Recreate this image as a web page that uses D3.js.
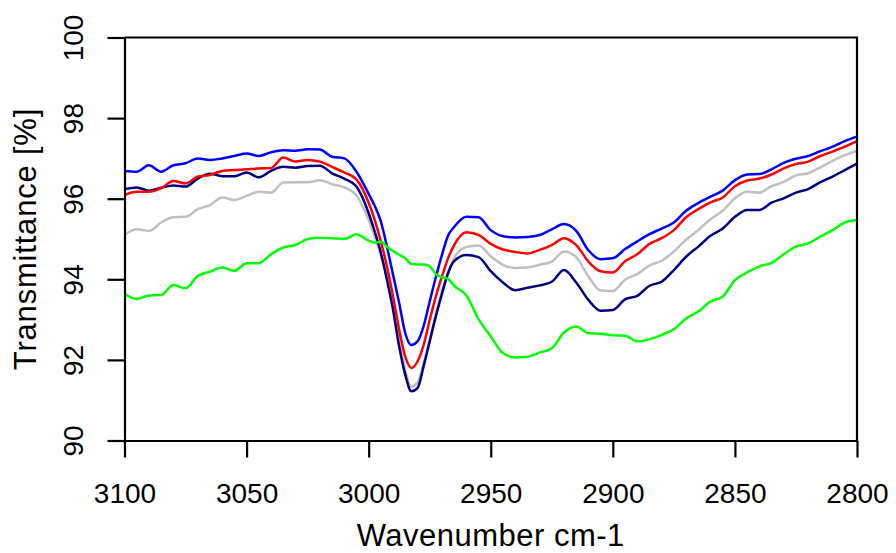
<!DOCTYPE html>
<html>
<head>
<meta charset="utf-8">
<script src="https://cdn.jsdelivr.net/npm/d3@7"></script>
<style>
  body { margin: 0; background: #fff; }
  text { font-family: "Liberation Sans", Arial, sans-serif; }
</style>
</head>
<body>
<svg id="chart" width="896" height="553"></svg>
<script>
// wavenumbers (cm-1), finer steps around the main absorption band
const wavenumbers = [3100, 3095, 3090, 3085, 3080, 3075, 3070, 3065, 3060, 3055, 3050, 3045, 3040, 3035, 3030, 3025, 3020, 3015, 3010, 3005,
  3000, 2997.5, 2995, 2992.5, 2990, 2987.5, 2985, 2982.5, 2980, 2977.5, 2975, 2972.5, 2970, 2967.5, 2965,
  2960, 2955, 2950, 2945, 2940, 2935, 2930, 2925, 2920, 2915, 2910, 2905, 2900, 2895, 2890, 2885, 2880, 2875, 2870, 2865,
  2860, 2855, 2850, 2845, 2840, 2835, 2830, 2825, 2820, 2815, 2810, 2805, 2800];

const blueT = [96.69, 96.67, 96.83, 96.67, 96.83, 96.88, 97.00, 96.96, 97.00, 97.06, 97.12, 97.06, 97.15, 97.20, 97.19, 97.23, 97.22, 97.04, 97.00, 96.67,
  96.12, 95.82, 95.43, 94.81, 94.11, 93.41, 92.66, 92.37, 92.46, 92.84, 93.45, 94.05, 94.60, 95.08, 95.30,
  95.55, 95.54, 95.22, 95.07, 95.04, 95.05, 95.10, 95.24, 95.37, 95.20, 94.72, 94.50, 94.52, 94.75, 94.94, 95.12, 95.26, 95.41, 95.70, 95.89,
  96.05, 96.20, 96.46, 96.60, 96.61, 96.73, 96.89, 96.99, 97.06, 97.18, 97.29, 97.43, 97.54];

const redT = [96.09, 96.17, 96.17, 96.26, 96.44, 96.38, 96.55, 96.59, 96.69, 96.71, 96.73, 96.75, 96.76, 97.02, 96.92, 96.96, 96.92, 96.79, 96.65, 96.48,
  95.90, 95.47, 94.94, 94.31, 93.57, 92.75, 92.08, 91.80, 91.96, 92.37, 92.99, 93.57, 94.07, 94.52, 94.85,
  95.17, 95.10, 94.88, 94.74, 94.68, 94.64, 94.73, 94.85, 95.02, 94.85, 94.44, 94.20, 94.17, 94.45, 94.62, 94.88, 95.02, 95.22, 95.54, 95.74,
  95.91, 96.03, 96.31, 96.45, 96.50, 96.60, 96.75, 96.86, 96.92, 97.06, 97.17, 97.29, 97.43];

const navyT = [96.24, 96.28, 96.20, 96.27, 96.33, 96.30, 96.50, 96.62, 96.56, 96.56, 96.65, 96.53, 96.69, 96.79, 96.77, 96.81, 96.82, 96.63, 96.50, 96.30,
  95.64, 95.18, 94.66, 93.98, 93.24, 92.33, 91.63, 91.22, 91.30, 91.84, 92.46, 93.08, 93.64, 94.15, 94.45,
  94.60, 94.55, 94.20, 93.92, 93.73, 93.79, 93.85, 93.94, 94.23, 93.92, 93.49, 93.22, 93.24, 93.50, 93.59, 93.84, 93.94, 94.23, 94.56, 94.81,
  95.08, 95.26, 95.55, 95.72, 95.72, 95.90, 96.01, 96.15, 96.24, 96.41, 96.55, 96.71, 96.87];

const grayT = [95.10, 95.24, 95.20, 95.41, 95.54, 95.55, 95.74, 95.84, 96.03, 95.97, 96.07, 96.17, 96.15, 96.40, 96.41, 96.41, 96.46, 96.36, 96.28, 96.08,
  95.47, 95.06, 94.58, 94.07, 93.41, 92.50, 91.75, 91.34, 91.44, 91.92, 92.50, 93.12, 93.70, 94.15, 94.53,
  94.80, 94.84, 94.57, 94.36, 94.28, 94.29, 94.36, 94.44, 94.69, 94.55, 94.07, 93.72, 93.71, 93.99, 94.13, 94.34, 94.46, 94.69, 94.98, 95.22,
  95.49, 95.70, 96.01, 96.17, 96.15, 96.31, 96.42, 96.58, 96.63, 96.78, 96.94, 97.08, 97.19];

const greenT = [93.64, 93.51, 93.60, 93.61, 93.86, 93.78, 94.08, 94.19, 94.29, 94.21, 94.40, 94.40, 94.62, 94.79, 94.85, 95.00, 95.03, 95.02, 95.00, 95.12,
  94.96, 94.91, 94.93, 94.81, 94.70, 94.61, 94.52, 94.38, 94.37, 94.37, 94.32, 94.13, 94.05, 94.01, 93.84,
  93.60, 93.01, 92.58, 92.17, 92.06, 92.08, 92.18, 92.29, 92.68, 92.83, 92.66, 92.65, 92.61, 92.60, 92.46, 92.51, 92.62, 92.76, 93.03, 93.20,
  93.45, 93.57, 93.98, 94.17, 94.32, 94.41, 94.62, 94.81, 94.89, 95.06, 95.22, 95.41, 95.47];

const xTicks = [3100, 3050, 3000, 2950, 2900, 2850, 2800];
const yTicks = [90, 92, 94, 96, 98, 100];

const series = [
  { color: "#c0c0c0", values: grayT },
  { color: "#000080", values: navyT },
  { color: "#ff0000", values: redT },
  { color: "#0000ff", values: blueT },
  { color: "#00ff00", values: greenT },
];

const width = 896, height = 553;
const margin = { top: 37.5, right: 39, bottom: 112.5, left: 124.5 };

const svg = d3.select("#chart");

const x = d3.scaleLinear().domain([3100, 2800]).range([margin.left, width - margin.right]);
const y = d3.scaleLinear().domain([90, 100]).range([height - margin.bottom, margin.top]);

const line = d3.line()
  .x((d, i) => x(wavenumbers[i]))
  .y(d => y(d))
  .curve(d3.curveMonotoneX);

svg.append("g")
  .selectAll("path")
  .data(series)
  .join("path")
  .attr("fill", "none")
  .attr("stroke", d => d.color)
  .attr("stroke-width", 2.5)
  .attr("stroke-linejoin", "round")
  .attr("d", d => line(d.values));

// frame: top and right borders
svg.append("path")
  .attr("fill", "none")
  .attr("stroke", "#000")
  .attr("stroke-width", 2.2)
  .attr("d", `M${x(3100)},${y(100)}H${x(2800)}V${y(90)}`);

const xAxis = svg.append("g")
  .attr("transform", "translate(0," + y(90) + ")")
  .call(d3.axisBottom(x).tickValues(xTicks).tickSize(17).tickSizeOuter(0).tickFormat(d3.format("d")));

const yAxis = svg.append("g")
  .attr("transform", "translate(" + x(3100) + ",0)")
  .call(d3.axisLeft(y).tickValues(yTicks).tickSize(17).tickSizeOuter(0).tickFormat(d3.format("d")));

[xAxis, yAxis].forEach(g => {
  g.select(".domain").attr("stroke-width", 2.2);
  g.selectAll(".tick line").attr("stroke-width", 2.2);
  g.selectAll(".tick text").attr("font-size", 28).attr("fill", "#000");
});

xAxis.selectAll(".tick text").attr("y", 43).attr("dy", "0.71em");
yAxis.selectAll(".tick text")
  .attr("x", null).attr("dy", null)
  .attr("text-anchor", "middle")
  .attr("transform", "translate(-42,0) rotate(-90)");

svg.append("text")
  .attr("x", (x(3100) + x(2800)) / 2)
  .attr("y", 546)
  .attr("text-anchor", "middle")
  .attr("font-size", 31)
  .attr("letter-spacing", 0.5)
  .text("Wavenumber cm-1");

svg.append("text")
  .attr("transform", `translate(36,${(y(90) + y(100)) / 2}) rotate(-90)`)
  .attr("text-anchor", "middle")
  .attr("font-size", 31)
  .attr("letter-spacing", 0.8)
  .text("Transmittance [%]");
</script>
</body>
</html>
